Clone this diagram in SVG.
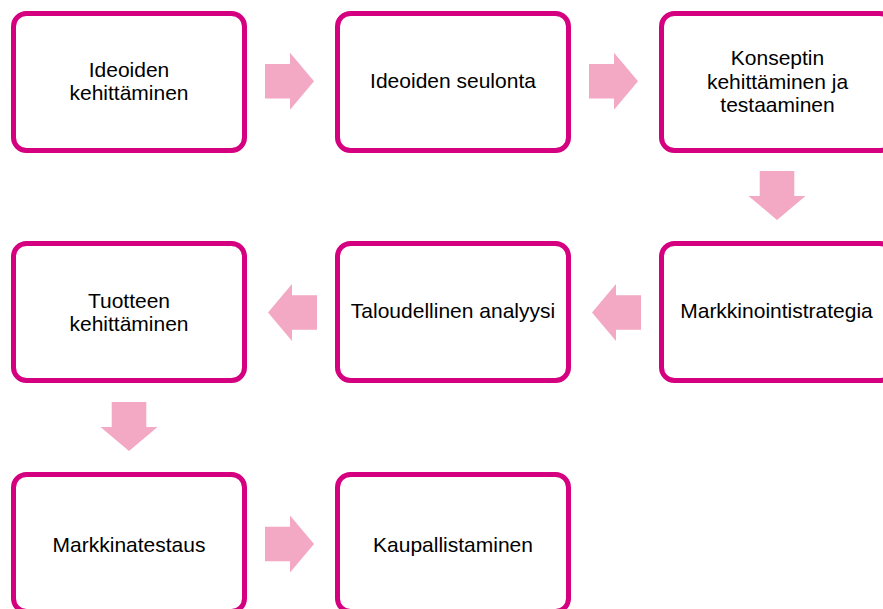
<svg xmlns="http://www.w3.org/2000/svg" width="883" height="609" viewBox="0 0 883 609">
  <defs>
    <style>
      .box { fill: #ffffff; stroke: #D5007F; stroke-width: 5; }
      .arrow { fill: #F3A8C4; stroke: none; }
      .label { font-family: "Liberation Sans", Arial, sans-serif; font-size: 21px; fill: #000000; text-anchor: middle; }
    </style>
    <polygon id="arrow-right" points="0,-17.3 25,-17.3 25,-28.5 49,0 25,28.5 25,17.3 0,17.3"/>
  </defs>
  <rect width="883" height="609" fill="#ffffff"/>

  <g id="connectors">
    <use href="#arrow-right" class="arrow" transform="translate(265,81.3)"/>
    <use href="#arrow-right" class="arrow" transform="translate(589,81.3)"/>
    <use href="#arrow-right" class="arrow" transform="translate(777,171) rotate(90)"/>
    <use href="#arrow-right" class="arrow" transform="translate(641,312.5) rotate(180)"/>
    <use href="#arrow-right" class="arrow" transform="translate(317,312.5) rotate(180)"/>
    <use href="#arrow-right" class="arrow" transform="translate(129,402) rotate(90)"/>
    <use href="#arrow-right" class="arrow" transform="translate(265,544)"/>
  </g>

  <g id="node-ideoiden-kehittaminen">
    <rect class="box" x="13.5" y="13.5" width="231" height="137" rx="13"/>
    <text class="label" x="129" y="77">Ideoiden</text>
    <text class="label" x="129" y="100">kehittäminen</text>
  </g>
  <g id="node-ideoiden-seulonta">
    <rect class="box" x="337.5" y="13.5" width="231" height="137" rx="13"/>
    <text class="label" x="453" y="88.3">Ideoiden seulonta</text>
  </g>
  <g id="node-konseptin">
    <rect class="box" x="661.5" y="13.5" width="231" height="137" rx="13"/>
    <text class="label" x="777.5" y="65">Konseptin</text>
    <text class="label" x="777.5" y="88.5">kehittäminen ja</text>
    <text class="label" x="777.5" y="112">testaaminen</text>
  </g>
  <g id="node-markkinointistrategia">
    <rect class="box" x="661.5" y="243.5" width="231" height="137" rx="13"/>
    <text class="label" x="776.5" y="317.5">Markkinointistrategia</text>
  </g>
  <g id="node-taloudellinen-analyysi">
    <rect class="box" x="337.5" y="243.5" width="231" height="137" rx="13"/>
    <text class="label" x="453" y="317.5">Taloudellinen analyysi</text>
  </g>
  <g id="node-tuotteen-kehittaminen">
    <rect class="box" x="13.5" y="243.5" width="231" height="137" rx="13"/>
    <text class="label" x="129" y="308">Tuotteen</text>
    <text class="label" x="129" y="331">kehittäminen</text>
  </g>
  <g id="node-markkinatestaus">
    <rect class="box" x="13.5" y="474.5" width="231" height="137" rx="13"/>
    <text class="label" x="129" y="552">Markkinatestaus</text>
  </g>
  <g id="node-kaupallistaminen">
    <rect class="box" x="337.5" y="474.5" width="231" height="137" rx="13"/>
    <text class="label" x="453" y="552">Kaupallistaminen</text>
  </g>
</svg>
